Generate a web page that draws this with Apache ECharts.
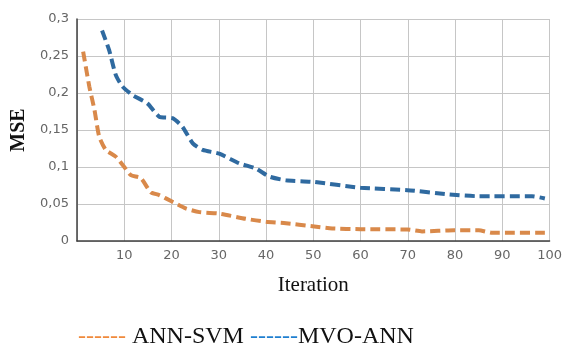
<!DOCTYPE html>
<html>
<head>
<meta charset="utf-8">
<script src="https://cdn.jsdelivr.net/npm/echarts@6/dist/echarts.min.js"></script>
<style>html,body{margin:0;padding:0;background:#fff}#c{width:565px;height:349px}</style>
</head>
<body>
<div id="c"></div>
<script>
const annSvmX = [1.3, 2.6, 3.7, 4.7, 6.1, 8.2, 10, 11.4, 13.5, 15.6, 17.4, 20.2, 23, 25.9, 30.1, 35.7, 40, 44.2, 49.8, 54, 60, 69.9, 73, 79.8, 85, 87.9, 99];
const annSvmY = [0.256, 0.209, 0.177, 0.141, 0.123, 0.114, 0.100, 0.089, 0.085, 0.066, 0.062, 0.053, 0.044, 0.039, 0.037, 0.030, 0.026, 0.024, 0.020, 0.017, 0.016, 0.0155, 0.013, 0.0145, 0.0145, 0.011, 0.011];
const mvoAnnX = [5.3, 6.8, 8.2, 9.6, 11.8, 14.9, 17.4, 20.2, 22.3, 24.5, 26.6, 30.1, 34.3, 37.8, 40.7, 44.2, 49.8, 60, 69.9, 78.7, 85, 96.3, 99];
const mvoAnnY = [0.2845, 0.258, 0.2245, 0.209, 0.197, 0.186, 0.168, 0.166, 0.1545, 0.132, 0.123, 0.118, 0.105, 0.098, 0.087, 0.082, 0.080, 0.072, 0.0687, 0.063, 0.0605, 0.0605, 0.0575];
const seriesNames = ['ANN-SVM', 'MVO-ANN'];
const xTitle = 'Iteration';
const yTitle = 'MSE';

const zip = (xs, ys) => xs.map((x, i) => [x, ys[i]]);
const chart = echarts.init(document.getElementById('c'), null, {renderer: 'canvas'});
chart.setOption({
  animation: false,
  backgroundColor: '#fff',
  grid: {left: 77, right: 14, top: 19, bottom: 108, containLabel: false},
  xAxis: {
    type: 'value', min: 0, max: 100, interval: 10,
    axisLine: {show: true, onZero: false, lineStyle: {color: '#404040', width: 1.5}},
    axisTick: {show: false},
    axisLabel: {color: '#666', fontSize: 13, fontFamily: 'DejaVu Sans', margin: 8,
      formatter: v => v === 0 ? '' : String(v)},
    splitLine: {show: true, lineStyle: {color: '#c6c6c6', width: 1}},
    name: xTitle, nameLocation: 'middle', nameGap: 34,
    nameTextStyle: {color: '#111', fontSize: 21, fontFamily: 'Liberation Serif, Times New Roman'}
  },
  yAxis: {
    type: 'value', min: 0, max: 0.3, interval: 0.05,
    axisLine: {show: true, lineStyle: {color: '#404040', width: 1.5}},
    axisTick: {show: false},
    axisLabel: {color: '#666', fontSize: 13, fontFamily: 'DejaVu Sans', margin: 8,
      formatter: v => String(Math.round(v * 100) / 100).replace('.', ',')},
    splitLine: {show: true, lineStyle: {color: '#c6c6c6', width: 1}},
    name: yTitle, nameLocation: 'middle', nameGap: 47, nameRotate: 90,
    nameTextStyle: {color: '#111', fontSize: 20, fontWeight: 'bold', fontFamily: 'Liberation Serif, Times New Roman'}
  },
  series: [
    {name: seriesNames[0], type: 'line', data: zip(annSvmX, annSvmY), showSymbol: false, smooth: 0.2,
      lineStyle: {color: '#d9894a', width: 4, type: [10, 5]}},
    {name: seriesNames[1], type: 'line', data: zip(mvoAnnX, mvoAnnY), showSymbol: false, smooth: 0.2,
      lineStyle: {color: '#2f6aa0', width: 4, type: [10, 5]}}
  ],
  graphic: [{
    type: 'text', left: 78, top: 325,
    style: {
      text: '{o|------} {t|' + seriesNames[0] + '} {b|------}{t|' + seriesNames[1] + '}',
      rich: {
        o: {fill: '#f08a3c', fontSize: 24, fontFamily: 'Liberation Serif'},
        b: {fill: '#1f7fd0', fontSize: 24, fontFamily: 'Liberation Serif'},
        t: {fill: '#111', fontSize: 24, fontFamily: 'Liberation Serif'}
      },
      fontSize: 24, fontFamily: 'Liberation Serif'
    }
  }]
});
</script>
</body>
</html>
